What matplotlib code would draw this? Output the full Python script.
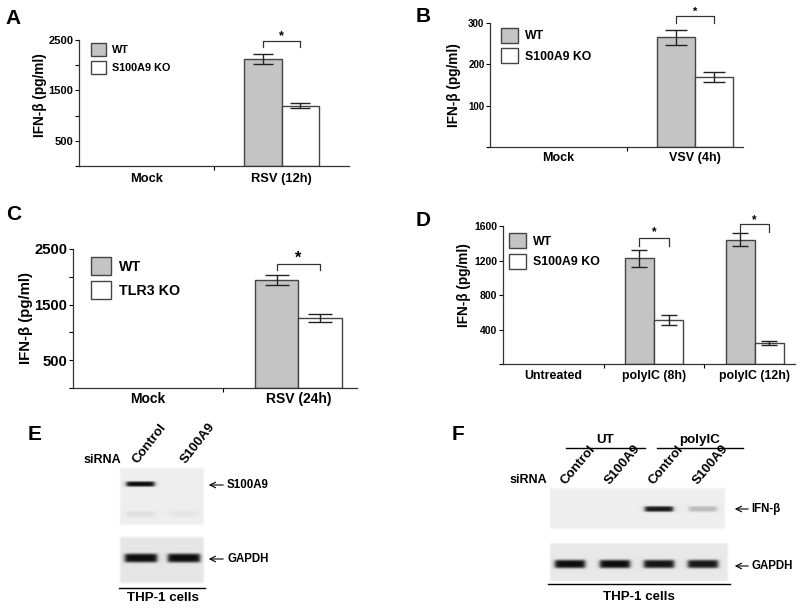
import numpy as np
import matplotlib
matplotlib.use("Agg")
import matplotlib.pyplot as plt
from matplotlib.patches import Patch

plt.rcParams['font.family'] = ['Liberation Sans', 'DejaVu Sans']
plt.rcParams['font.weight'] = 'bold'
plt.rcParams['axes.labelweight'] = 'bold'

W, H = 800, 610

# ---- bar chart data ----
a_cats = ['Mock', 'RSV (12h)']
a_wt, a_wt_err = [0, 2130], [0, 100]
a_ko, a_ko_err = [0, 1200], [0, 50]

b_cats = ['Mock', 'VSV (4h)']
b_wt, b_wt_err = [0, 265], [0, 18]
b_ko, b_ko_err = [0, 170], [0, 12]

c_cats = ['Mock', 'RSV (24h)']
c_wt, c_wt_err = [0, 1940], [0, 90]
c_ko, c_ko_err = [0, 1255], [0, 75]

d_cats = ['Untreated', 'polyIC (8h)', 'polyIC (12h)']
d_wt, d_wt_err = [0, 1225, 1440], [0, 95, 75]
d_ko, d_ko_err = [0, 510, 240], [0, 60, 25]

# ---- gel band intensities (0 = none, 1 = strong) ----
e_lanes = ['Control', 'S100A9']
e_s100a9 = [1.0, 0.0]
e_faint = [0.06, 0.04]
e_gapdh = [1.0, 1.0]

f_groups = ['UT', 'polyIC']
f_lanes = ['Control', 'S100A9', 'Control', 'S100A9']
f_ifnb = [0.0, 0.0, 0.95, 0.22]
f_gapdh = [1.0, 1.0, 0.97, 0.95]

fig = plt.figure(figsize=(8, 6.1), dpi=100)


def rect(l, t, r, b):
    return [l / W, 1 - b / H, (r - l) / W, (b - t) / H]


def bar_panel(box, cats, wt, wt_err, ko, ko_err, ymax, yticks, yminor, xright,
              bw, fs, leg_labels, leg_pos, brackets, label_xy, xpad):
    ax = fig.add_axes(rect(*box))
    x = np.arange(len(cats))
    # half cap width in points (capsize is half the cap length)
    unit_px = (box[2] - box[0]) / (xright + 0.5)
    cap = 0.55 * bw * unit_px * 72 / 100 / 2
    ax.bar(x - bw / 2, wt, bw, color='#c4c4c4', edgecolor='#444444',
           lw=[1.0 if v > 0 else 0 for v in wt], zorder=2)
    ax.bar(x + bw / 2, ko, bw, color='white', edgecolor='#444444',
           lw=[1.0 if v > 0 else 0 for v in ko], zorder=2)
    for i in range(len(cats)):
        if wt[i] > 0:
            ax.errorbar(x[i] - bw / 2, wt[i], yerr=wt_err[i], color='#222222',
                        lw=1.0, capsize=cap, capthick=1.0, zorder=3)
        if ko[i] > 0:
            ax.errorbar(x[i] + bw / 2, ko[i], yerr=ko_err[i], color='#222222',
                        lw=1.0, capsize=cap, capthick=1.0, zorder=3)
    for i, ytop, yleg, ystar in brackets:
        x0, x1 = i - bw / 2, i + bw / 2
        ax.plot([x0, x0, x1, x1], [yleg, ytop, ytop, yleg], color='#333333',
                lw=0.9, clip_on=False)
        ax.text(i, ystar, '*', ha='center', va='center', fontsize=fs['tick'] + 1,
                clip_on=False)
    ax.set_xlim(-0.5, xright)
    ax.set_ylim(0, ymax)
    ax.set_yticks(yticks)
    ax.set_yticks(yminor, minor=True)
    ax.set_xticks(x)
    ax.set_xticklabels(cats, fontsize=fs['x'])
    ax.set_xticks(np.arange(len(cats) - 1) + 0.5, minor=True)
    ax.tick_params(axis='x', which='major', length=0, pad=xpad)
    ax.tick_params(axis='x', which='minor', length=3, width=0.8, direction='out')
    ax.tick_params(axis='y', which='both', length=3, width=0.8, labelsize=fs['tick'],
                   pad=1)
    for s in ['top', 'right']:
        ax.spines[s].set_visible(False)
    for s in ['left', 'bottom']:
        ax.spines[s].set_color('#333333')
        ax.spines[s].set_linewidth(0.9)
    ax.set_ylabel('IFN-β (pg/ml)', fontsize=fs['y'])
    ax.yaxis.set_label_coords(*label_xy)
    handles = [Patch(facecolor='#c4c4c4', edgecolor='#444444', lw=1.0),
               Patch(facecolor='white', edgecolor='#444444', lw=1.0)]
    ax.legend(handles, leg_labels, loc='upper left', bbox_to_anchor=leg_pos,
              frameon=False, fontsize=fs['leg'], handlelength=1.35,
              handleheight=1.5, handletextpad=0.6, labelspacing=0.45,
              borderpad=0, borderaxespad=0)
    return ax


bar_panel((79, 40, 349, 166), a_cats, a_wt, a_wt_err, a_ko, a_ko_err, 2500,
          [500, 1500, 2500], [0, 1000, 2000], 1.5, 0.28,
          dict(tick=8, x=9.3, y=9.8, leg=7.8), ['WT', 'S100A9 KO'], (0.045, 0.98),
          [(1, 2475, 2356, 2580)], (-0.118, 0.56), 5)

bar_panel((490, 23, 743, 147), b_cats, b_wt, b_wt_err, b_ko, b_ko_err, 300,
          [100, 200, 300], [0], 1.35, 0.28,
          dict(tick=7, x=9, y=9.8, leg=8.8), ['WT', 'S100A9 KO'], (0.045, 0.96),
          [(1, 316, 300, 328)], (-0.115, 0.5), 3.5)

bar_panel((73, 249, 357, 388), c_cats, c_wt, c_wt_err, c_ko, c_ko_err, 2500,
          [500, 1500, 2500], [0, 1000, 2000], 1.39, 0.287,
          dict(tick=10.7, x=10, y=10.8, leg=10.3), ['WT', 'TLR3 KO'], (0.065, 0.94),
          [(1, 2226, 2118, 2330)], (-0.14, 0.5), 3)

bar_panel((503, 226, 795, 364), d_cats, d_wt, d_wt_err, d_ko, d_ko_err, 1600,
          [400, 800, 1200, 1600], [0], 2.4, 0.29,
          dict(tick=7.5, x=8.9, y=9.8, leg=8.9), ['WT', 'S100A9 KO'], (0.02, 0.95),
          [(1, 1457, 1371, 1525), (2, 1622, 1530, 1668)], (-0.11, 0.57), 4)


# ---- gels ----
def gel(box, lane_x, bands, bg):
    l, t, r, b = box
    w, h = r - l, b - t
    xx = (np.arange(w * 4) + 0.5) / 4
    yy = (np.arange(h * 4) + 0.5) / 4
    img = np.full((len(yy), len(xx)), bg)
    for yc, hh, hw, values in bands:
        vy = np.exp(-((yy - yc) / hh) ** 4)
        for xc, v in zip(lane_x, values):
            if v <= 0:
                continue
            vx = 1 / (1 + np.exp((np.abs(xx - xc) - hw) / 1.2))
            img = img - v * (bg - 0.05) * np.outer(vy, vx)
    ex = np.clip(np.minimum(xx, w - xx) / 2.5, 0, 1)
    ey = np.clip(np.minimum(yy, h - yy) / 2.5, 0, 1)
    img = 1 - (1 - img) * np.outer(ey, ex)
    ax = fig.add_axes(rect(*box))
    ax.imshow(img, cmap='gray', vmin=0, vmax=1, extent=(0, w, h, 0),
              aspect='auto', interpolation='bilinear')
    ax.axis('off')
    return ax


gel((119, 467, 205, 526), [21.5, 65], [(17, 2.6, 14, e_s100a9),
                                       (47, 3.0, 14, e_faint)], 0.93)
gel((119, 536, 205, 584), [22, 65], [(22, 4.5, 16, e_gapdh)], 0.90)
gel((549, 487, 726, 530), [21, 66, 110, 154], [(22, 2.8, 14, f_ifnb)], 0.93)
gel((549, 542, 729, 582), [21, 66, 110, 154], [(22, 4.2, 15, f_gapdh)], 0.91)

# ---- overlay for labels, arrows and lines (pixel coordinates) ----
ov = fig.add_axes([0, 0, 1, 1])
ov.set_xlim(0, W)
ov.set_ylim(H, 0)
ov.axis('off')

for letter, (lx, ly) in zip('ABCDEF', [(13, 19), (423, 17), (14, 215), (423, 220),
                                       (35, 434), (458, 434)]):
    ov.text(lx, ly, letter, fontsize=15, ha='center', va='center')

# panel E
ov.text(102, 460, 'siRNA', fontsize=9, ha='center', va='center')
for lx, name in zip([137, 186], e_lanes):
    ov.text(lx, 464, name, fontsize=9.5, rotation=52, rotation_mode='anchor',
            ha='left', va='baseline')
ov.annotate('', xy=(206, 485), xytext=(226, 485),
            arrowprops=dict(arrowstyle='->', lw=0.8, color='black'))
ov.text(227, 485, 'S100A9', fontsize=8.3, ha='left', va='center')
ov.annotate('', xy=(206, 559), xytext=(226, 559),
            arrowprops=dict(arrowstyle='->', lw=0.8, color='black'))
ov.text(227, 559, 'GAPDH', fontsize=8.3, ha='left', va='center')
ov.plot([119, 205], [588, 588], color='black', lw=1.0)
ov.text(163, 598, 'THP-1 cells', fontsize=9.6, ha='center', va='center')

# panel F
ov.text(528, 480, 'siRNA', fontsize=9, ha='center', va='center')
for lx, name in zip([565, 610, 654, 698], f_lanes):
    ov.text(lx, 485, name, fontsize=9.5, rotation=50, rotation_mode='anchor',
            ha='left', va='baseline')
for (x0, x1), name in zip([(566, 645), (657, 743)], f_groups):
    ov.plot([x0, x1], [448, 448], color='black', lw=1.0)
    ov.text((x0 + x1) / 2, 446, name, fontsize=9.6, ha='center', va='bottom')
ov.annotate('', xy=(732, 509), xytext=(751, 509),
            arrowprops=dict(arrowstyle='->', lw=0.8, color='black'))
ov.text(751, 509, 'IFN-β', fontsize=8.3, ha='left', va='center')
ov.annotate('', xy=(732, 566), xytext=(751, 566),
            arrowprops=dict(arrowstyle='->', lw=0.8, color='black'))
ov.text(751, 566, 'GAPDH', fontsize=8.3, ha='left', va='center')
ov.plot([548, 730], [584, 584], color='black', lw=1.0)
ov.text(639, 597, 'THP-1 cells', fontsize=9.6, ha='center', va='center')

fig.savefig('out.png', dpi=100)
